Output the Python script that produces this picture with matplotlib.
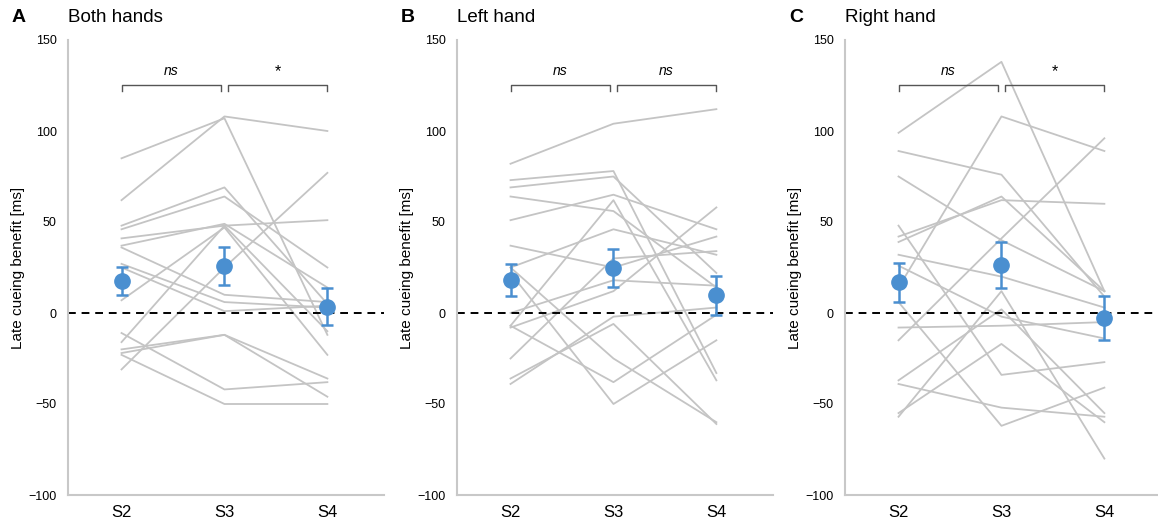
import matplotlib.pyplot as plt
import numpy as np

plt.rcParams['font.family'] = ['Liberation Sans', 'DejaVu Sans']

sessions = ['S2', 'S3', 'S4']
panel_letters = ['A', 'B', 'C']
panel_titles = ['Both hands', 'Left hand', 'Right hand']

# individual subjects (S2, S3, S4) per panel
subj_both = [
    [85, 107, -12], [62, 108, 100], [48, 69, 5], [46, 64, 25],
    [41, 48, 51], [37, 49, 14], [36, 10, 6], [27, 6, 3],
    [25, 1, 4], [7, 47, -23], [-11, -42, -38], [-16, 48, -10],
    [-20, -12, -46], [-22, -12, -36], [-23, -50, -50], [-31, 25, 77],
]
subj_left = [
    [82, 104, 112], [73, 78, -33], [69, 75, 22], [64, 56, 14],
    [51, 65, 46], [37, 25, 42], [25, 46, 32], [25, -25, -60],
    [22, -50, -15], [0, 18, 15], [-7, 62, -37], [-8, 12, 58],
    [-25, 30, 34], [-7, -38, -1], [-39, -2, 3], [-36, -6, -61],
]
subj_right = [
    [99, 138, 12], [89, 76, 9], [75, 40, 12], [48, -34, -27],
    [42, 62, 60], [39, 64, 12], [32, 20, 3], [26, -2, -14],
    [14, 108, 89], [6, -62, -41], [-8, -7, -5], [-15, 41, 96],
    [-37, 2, -55], [-39, -52, -57], [-55, -17, -60], [-57, 12, -80],
]

# group means with error bar ends
mean_both = [17.6, 25.7, 3.5]
lo_both = [9.7, 15.2, -6.8]
hi_both = [25.3, 36.0, 13.8]
mean_left = [18.3, 25.0, 9.7]
lo_left = [9.4, 14.3, -1.3]
hi_left = [27.0, 35.2, 20.4]
mean_right = [17.0, 26.6, -2.8]
lo_right = [6.0, 13.8, -14.7]
hi_right = [27.7, 39.0, 9.4]

sig_labels = [['ns', '*'], ['ns', 'ns'], ['ns', '*']]

subjects = [subj_both, subj_left, subj_right]
means = [mean_both, mean_left, mean_right]
lows = [lo_both, lo_left, lo_right]
highs = [hi_both, hi_left, hi_right]

blue = '#4a8fd0'
grey = '#c4c4c4'

fig = plt.figure(figsize=(11.58, 5.22), dpi=100)
lefts = [68, 457, 845]
W, H = 1158, 522

for i in range(3):
    ax = fig.add_axes([lefts[i] / W, 1 - 495 / H, 316 / W, (495 - 40) / H])
    x = np.arange(3)
    for s in subjects[i]:
        ax.plot(x, s, color=grey, lw=1.3, zorder=1)
    ax.axhline(0, color='black', lw=1.4, ls=(0, (4, 3)), zorder=2)
    m = np.array(means[i])
    yerr = [m - np.array(lows[i]), np.array(highs[i]) - m]
    ax.errorbar(x, m, yerr=yerr, fmt='o', color=blue, ms=11, elinewidth=1.8,
                capsize=4.5, capthick=1.8, zorder=3)

    # significance brackets
    yb, tick = 125.5, 3.5
    for j, (a, b) in enumerate([(0.0, 0.97), (1.03, 2.0)]):
        ax.plot([a, a, b, b], [yb - tick, yb, yb, yb - tick], color='#555555', lw=1, zorder=2)
        lab = sig_labels[i][j]
        if lab == 'ns':
            ax.text((a + b) / 2, yb + 3.5, lab, ha='center', va='bottom', fontsize=10, style='italic')
        else:
            ax.text((a + b) / 2, yb + 3, lab, ha='center', va='bottom', fontsize=11.5)

    ax.set_xlim(-0.52, 2.55)
    ax.set_ylim(-100, 150)
    ax.set_yticks([-100, -50, 0, 50, 100, 150])
    ax.set_yticklabels(['\u2212100', '\u221250', '0', '50', '100', '150'])
    ax.set_xticks(x)
    ax.set_xticklabels(sessions, fontsize=12)
    ax.tick_params(axis='y', length=0, pad=8, labelsize=9)
    ax.tick_params(axis='x', length=0, pad=7)
    for side in ['top', 'right']:
        ax.spines[side].set_visible(False)
    for side in ['left', 'bottom']:
        ax.spines[side].set_color('#c8c8c8')
        ax.spines[side].set_linewidth(1.5)
    ax.set_ylabel('Late cueing benefit [ms]', fontsize=11)
    ax.yaxis.set_label_coords(-0.136, 0.5)

    fig.text((lefts[i] - 56) / W, 1 - 17 / H, panel_letters[i], fontsize=14, fontweight='bold', va='center')
    fig.text(lefts[i] / W, 1 - 17 / H, panel_titles[i], fontsize=13.5, va='center')

fig.savefig('out.png', dpi=100)
